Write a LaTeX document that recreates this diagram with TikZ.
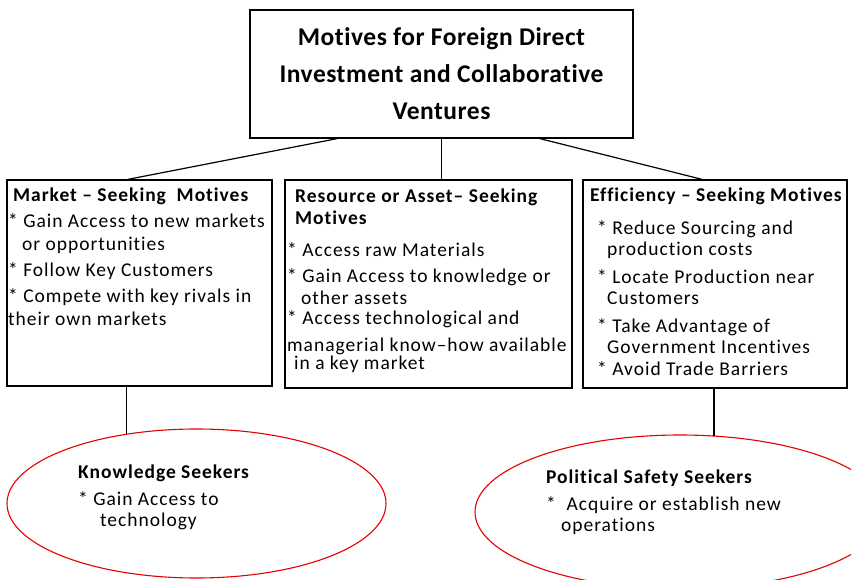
\documentclass[tikz,border=0pt]{standalone}
\usepackage{fontspec}
\setmainfont{Carlito}
\newfontfamily\boxfont{Carlito}[LetterSpace=5, Ligatures={TeX,NoCommon}]
\newfontfamily\titlefont{Carlito}[LetterSpace=2, Ligatures={TeX,NoCommon}]
\usetikzlibrary{shapes.geometric}

\begin{document}
\begin{tikzpicture}[x=1pt,y=-1pt,
    box/.style={draw, line width=1.3pt, inner sep=0pt},
    seeker/.style={draw=red!90!black, ellipse, line width=1.1pt, inner sep=0pt},
    txt/.style={anchor=north west, align=left, inner sep=0pt,
        font=\boxfont\fontsize{19.5}{23}\selectfont}]
\useasboundingbox (0,0) rectangle (851,580);

% Main box
\node [box,
    minimum width=383pt,
    minimum height=128pt,
    align=center,
    font=\titlefont\fontsize{25.5}{37}\selectfont\bfseries] (T) at (441.5,74)
    {Motives for Foreign Direct\\Investment and Collaborative\\Ventures};

% Motive boxes
\node [box, minimum width=265pt, minimum height=206pt] (M) at (139.5,283){};
\node [box, minimum width=287pt, minimum height=208pt] (R) at (428.5,284){};
\node [box, minimum width=264pt, minimum height=208pt] (E) at (715,284){};

% Seekers
\node [seeker, minimum width=379pt, minimum height=149pt] (K) at (196.5,503.5){};
\node [seeker, minimum width=410pt, minimum height=154pt] (P) at (680,512){};

% Box texts
\node [txt] (Mt) at (8,188) {%
    \hspace*{5pt}\textbf{Market -- Seeking\ \ Motives}\\[3pt]
    * Gain Access to new markets\\
    \hspace*{14pt}or opportunities\\[3pt]
    * Follow Key Customers\\[3pt]
    * Compete with key rivals in\\
    their own markets};

\node [txt, font=\boxfont\fontsize{19.5}{22}\selectfont] (Rt) at (287,189) {%
    \hspace*{8pt}\textbf{Resource or Asset-- Seeking}\\
    \hspace*{8pt}\textbf{Motives}\\[10pt]
    * Access raw Materials\\[4pt]
    * Gain Access to knowledge or\\
    \hspace*{14pt}other assets\\[-2pt]
    * Access technological and\\[5pt]
    managerial know--how available\\[-4pt]
    \hspace*{7pt}in a key market};

\node [txt, font=\boxfont\fontsize{19.5}{21.5}\selectfont] (Et) at (590,188) {%
    \textbf{Efficiency -- Seeking Motives}\\[11pt]
    \hspace*{7pt}* Reduce Sourcing and\\
    \hspace*{17pt}production costs\\[6pt]
    \hspace*{7pt}* Locate Production near\\
    \hspace*{17pt}Customers\\[6pt]
    \hspace*{7pt}* Take Advantage of\\
    \hspace*{17pt}Government Incentives\\
    \hspace*{7pt}* Avoid Trade Barriers};

% Seeker texts
\node [txt, font=\boxfont\fontsize{19.5}{21}\selectfont] (Kt) at (78,465) {%
    \textbf{Knowledge Seekers}\\[6pt]
    * Gain Access to\\
    \hspace*{22pt}technology};

\node [txt, font=\boxfont\fontsize{19.5}{21}\selectfont] (Pt) at (546,470) {%
    \textbf{Political Safety Seekers}\\[6pt]
    * \ Acquire or establish new\\
    \hspace*{15pt}operations};

% Connectors
\draw [line width=1.2pt] ([xshift=-104.5pt]T.south) -- ([xshift=-11.5pt]M.north);
\draw [line width=1.2pt] (T.south) -- (T.south |- R.north);
\draw [line width=1.2pt] ([xshift=98.5pt]T.south) -- ([xshift=-13pt]E.north);
\draw [line width=1.2pt] (K.135 |- M.south) -- (K.135);
\draw [line width=1.2pt] (P.66 |- E.south) -- (P.66);

\end{tikzpicture}
\end{document}
